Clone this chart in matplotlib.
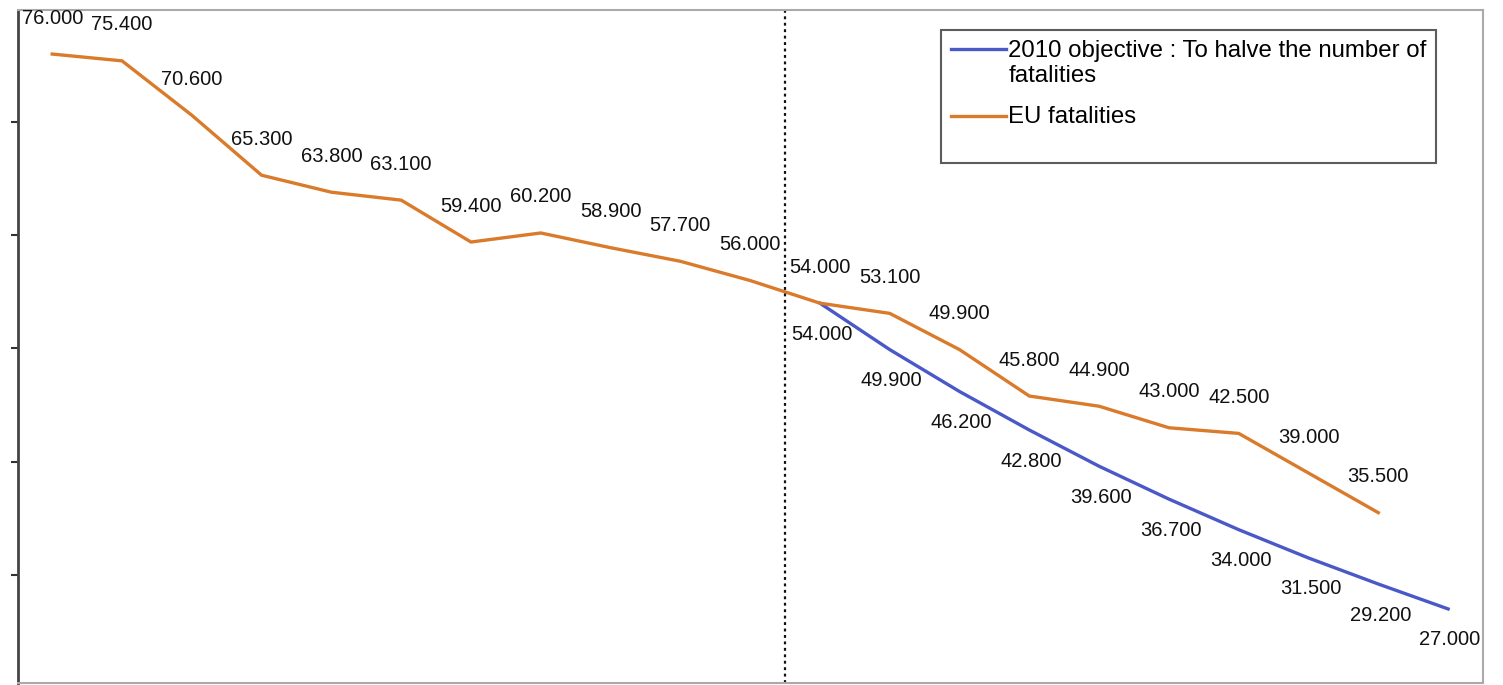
import matplotlib.pyplot as plt
from matplotlib.legend_handler import HandlerLine2D

# EU road fatalities and the 2010 objective (halve the number of fatalities)
annees_ue = list(range(1990, 2010))
tues_ue = [76000, 75400, 70600, 65300, 63800, 63100, 59400, 60200, 58900, 57700,
           56000, 54000, 53100, 49900, 45800, 44900, 43000, 42500, 39000, 35500]

annees_obj = list(range(2001, 2011))
tues_obj = [54000, 49900, 46200, 42800, 39600, 36700, 34000, 31500, 29200, 27000]

nom_obj = '2010 objective : To halve the number of\nfatalities'
nom_ue = 'EU fatalities\n'

COUL_UE = '#DA7B2C'
COUL_OBJ = '#4A58C8'


def fmt(v):
    return f'{v:,}'.replace(',', '.')


# trait de légende aligné sur la première ligne du texte
class HandlerHaut(HandlerLine2D):
    def create_artists(self, legend, orig_handle, xdescent, ydescent,
                       width, height, fontsize, trans):
        arts = super().create_artists(legend, orig_handle, xdescent, ydescent,
                                      width, height, fontsize, trans)
        for a in arts:
            a.set_ydata([y + 0.6 * fontsize for y in a.get_ydata()])
        return arts


fig = plt.figure(figsize=(15.03, 6.85), dpi=100)
ax = fig.add_axes([18/1503, 2/685, 1465/1503, 673/685])

l_obj, = ax.plot(annees_obj, tues_obj, color=COUL_OBJ, lw=2.4, label=nom_obj)
l_ue, = ax.plot(annees_ue, tues_ue, color=COUL_UE, lw=2.4, label=nom_ue)

# étiquettes des valeurs
police = dict(family='Liberation Sans', fontsize=14.5, color='#111111')
for x, v in zip(annees_ue, tues_ue):
    ax.annotate(fmt(v), (x, v), xytext=(0, 36), textcoords='offset pixels',
                ha='center', va='center', **police)
for x, v in zip(annees_obj, tues_obj):
    ax.annotate(fmt(v), (x, v), xytext=(2, -31), textcoords='offset pixels',
                ha='center', va='center', **police)

# séparation passé / objectif
ax.axvline(2000.5, color='#111111', lw=1.6, linestyle=(0, (1.3, 1.6)))

ax.set_xlim(1989.51, 2010.5)
ax.set_ylim(20460, 79890)
ax.set_xticks([])
ax.set_yticks([30000, 40000, 50000, 60000, 70000])
ax.tick_params(axis='y', direction='out', length=5, width=1.5, color='#333333',
               labelleft=False)

for cote in ['top', 'right', 'bottom']:
    ax.spines[cote].set_color('#aaaaaa')
    ax.spines[cote].set_linewidth(1.5)
ax.spines['left'].set_color('#444444')
ax.spines['left'].set_linewidth(2)

leg = ax.legend(loc='upper left', bbox_to_anchor=(0.630, 0.97),
                prop={'family': 'Liberation Sans', 'size': 17.3},
                handlelength=2.3, handletextpad=0.1, borderpad=0.4,
                labelspacing=0.8, borderaxespad=0, fancybox=False,
                frameon=True,
                handler_map={l_obj: HandlerHaut(), l_ue: HandlerHaut()})
leg.get_frame().set_edgecolor('#333333')
leg.get_frame().set_linewidth(1.5)

plt.savefig('out.png', dpi=100)
